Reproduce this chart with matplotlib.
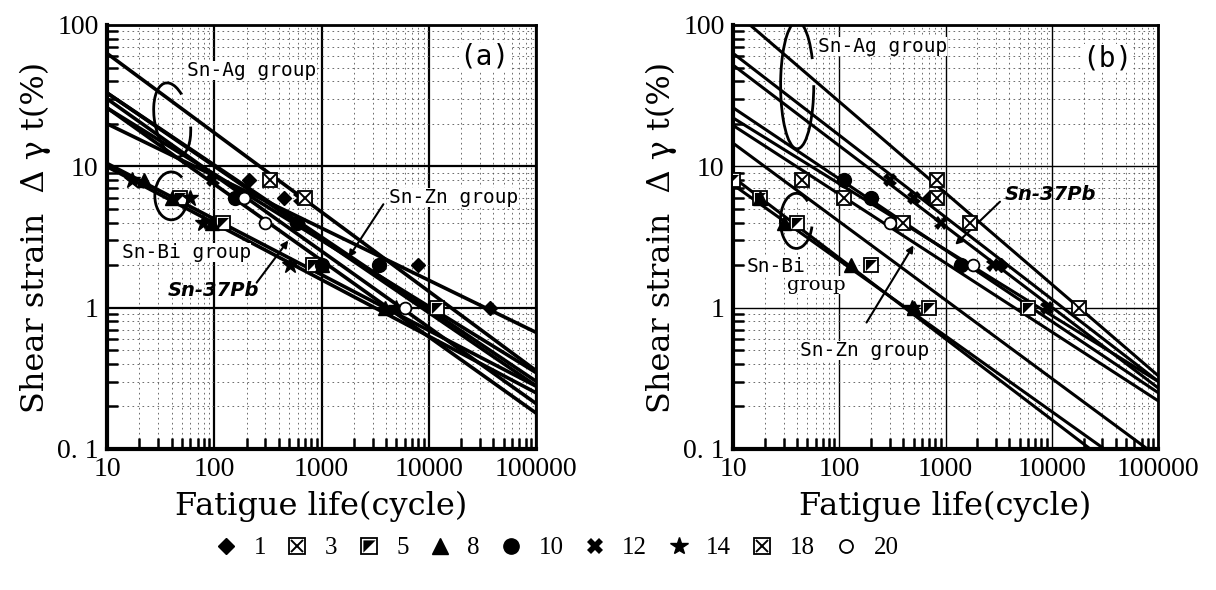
import numpy as np
import matplotlib
matplotlib.use("Agg")
import matplotlib.pyplot as plt
from matplotlib.lines import Line2D
from matplotlib.patches import Arc
from matplotlib.legend_handler import HandlerTuple
from matplotlib.ticker import FixedLocator, LogLocator, NullFormatter

ALLOYS = ["1", "3", "5", "8", "10", "12", "14", "18", "20"]

# fitted lines, d_gamma = C * N ** (-b), one per alloy
A_FIT_C = [46.8, 109, 104, 26, 76, 107, 25, 229, 90]
A_FIT_B = [0.369, 0.518, 0.539, 0.394, 0.468, 0.510, 0.40, 0.561, 0.540]
B_FIT_C = [194, 240, 31.3, 25.4, 83, 64.4, 52.4, 562, 59.8]
B_FIT_B = [0.571, 0.58, 0.572, 0.535, 0.504, 0.466, 0.555, 0.646, 0.487]

# measured points: fatigue life (cycle) and shear strain (%)
A_LIFE = [[210, 450, 7900, 37000], [330], [48, 120, 830, 12000],
          [22, 40, 95, 1000, 3900], [156, 590, 1000, 3400], [97, 630],
          [17, 60, 79, 510, 5000], [700], [300, 190, 6000]]
A_STRAIN = [[8, 6, 2, 1], [8], [6, 4, 2, 1],
            [8, 6, 4, 2, 1], [6, 4, 2, 2], [8, 6],
            [8, 6, 4, 2, 1], [6], [4, 6, 1]]
B_LIFE = [[700, 3300], [45, 110, 18000], [10, 18, 40, 200, 700, 6000],
          [18, 30, 130, 500], [110, 200, 1400], [300, 500, 900, 2800, 9000],
          [480], [830, 830, 400, 1700], [300, 1800]]
B_STRAIN = [[6, 2], [8, 6, 1], [8, 6, 4, 2, 1, 1],
            [6, 4, 2, 1], [8, 6, 2], [8, 6, 4, 2, 1],
            [1], [8, 6, 4, 4], [4, 2]]

X_TICKS = [10, 100, 1000, 10000, 100000]
Y_TICKS = [0.1, 1, 10, 100]
Y_TICK_LABELS = ["0. 1", "1", "10", "100"]

TXT_SERIF = "DejaVu Serif"
TICK_FONT = "Liberation Serif"
MONO = "DejaVu Sans Mono"

HALF = [(-1, -1), (1, 1), (-1, 1)]


def marker_parts(i, ms):
    """list of plot kwargs per overlaid marker for alloy i"""
    k = dict(color="k", ls="none")
    box = dict(k, marker="s", mfc="white", mec="k", mew=1.3, ms=ms)
    styles = [
        [dict(k, marker="D", ms=ms * 0.75)],
        [box, dict(k, marker="x", mew=1.4, ms=ms * 0.8)],
        [box, dict(k, marker=HALF, ms=ms * 0.8, mew=0)],
        [dict(k, marker="^", ms=ms)],
        [dict(k, marker="o", ms=ms)],
        [dict(k, marker="X", ms=ms, mew=0)],
        [dict(k, marker="*", ms=ms * 1.2)],
        [box, dict(k, marker="x", mew=1.4, ms=ms * 0.8)],
        [dict(k, marker="o", mfc="white", mec="k", mew=1.3, ms=ms * 0.85)],
    ]
    return styles[i]


def setup_axes(ax, grid_lw):
    ax.set_xscale("log")
    ax.set_yscale("log")
    ax.set_xlim(10, 100000)
    ax.set_ylim(0.1, 100)
    ax.xaxis.set_major_locator(FixedLocator(X_TICKS))
    ax.set_xticklabels([str(t) for t in X_TICKS])
    ax.yaxis.set_major_locator(FixedLocator(Y_TICKS))
    ax.set_yticklabels(Y_TICK_LABELS)
    ax.xaxis.set_minor_locator(LogLocator(base=10, subs=np.arange(2, 10)))
    ax.yaxis.set_minor_locator(LogLocator(base=10, subs=np.arange(2, 10)))
    ax.xaxis.set_minor_formatter(NullFormatter())
    ax.yaxis.set_minor_formatter(NullFormatter())
    ax.grid(which="major", color="k", lw=grid_lw, zorder=1)
    ax.grid(which="minor", color="#555555", lw=0.6, ls=(0, (2, 4)), zorder=1)
    ax.tick_params(which="major", length=0, pad=6)
    ax.tick_params(which="minor", direction="in", length=8, width=1.8,
                   top=False, right=False)
    for lab in ax.get_xticklabels() + ax.get_yticklabels():
        lab.set_family(TICK_FONT)
        lab.set_fontsize(20)
    for side in ["left", "bottom"]:
        ax.spines[side].set_linewidth(3)
    for side in ["top", "right"]:
        ax.spines[side].set_linewidth(2)
    ax.set_xlabel("Fatigue life(cycle)", family=TXT_SERIF, fontsize=23,
                  labelpad=6)
    ax.set_ylabel("Shear strain  Δ γ t(%)", family=TXT_SERIF, fontsize=23,
                  labelpad=4)


def draw_panel(ax, fit_c, fit_b, life, strain, line_lw):
    n = np.logspace(1, 5, 60)
    for c, b in zip(fit_c, fit_b):
        ax.plot(n, c * n ** (-b), color="k", lw=line_lw, zorder=3)
    for i in range(len(ALLOYS)):
        for kw in marker_parts(i, 10):
            ax.plot(life[i], strain[i], zorder=4, **kw)


def ellipse(ax, cx, cy, w, h, ang, t1, t2):
    ax.add_patch(Arc((cx, cy), w, h, angle=ang, theta1=t1, theta2=t2,
                     transform=ax.transAxes, color="k", lw=2, zorder=5))


def label(ax, x, y, s, **kw):
    opts = dict(family=MONO, fontsize=14, va="center", zorder=6,
                bbox=dict(facecolor="white", edgecolor="none", pad=0))
    opts.update(kw)
    ax.text(x, y, s, **opts)


fig = plt.figure(figsize=(12.16, 5.90), dpi=100)
ax_a = fig.add_axes([107 / 1216, 141 / 590, 429 / 1216, 424 / 590])
ax_b = fig.add_axes([733 / 1216, 141 / 590, 425 / 1216, 424 / 590])

setup_axes(ax_a, 1.6)
setup_axes(ax_b, 1.0)
draw_panel(ax_a, A_FIT_C, A_FIT_B, A_LIFE, A_STRAIN, 2.6)
draw_panel(ax_b, B_FIT_C, B_FIT_B, B_LIFE, B_STRAIN, 2.2)

arrow = dict(arrowstyle="-|>", color="k", lw=1.5)

# panel (a) annotations
label(ax_a, 0.88, 0.925, "(a)", transform=ax_a.transAxes, fontsize=20,
      ha="center")
label(ax_a, 56, 48, "Sn-Ag group")
label(ax_a, 13.8, 2.44, "Sn-Bi group")
label(ax_a, 4300, 6.0, "Sn-Zn group")
ax_a.text(99, 1.33, "Sn-37Pb", family="DejaVu Sans", fontsize=14,
          weight="bold", style="italic", ha="center", va="center", zorder=6)
ax_a.annotate("", xy=(508, 3.1), xytext=(240, 1.45), arrowprops=arrow)
ax_a.annotate("", xy=(1730, 2.18), xytext=(3900, 5.6), arrowprops=arrow)
ellipse(ax_a, 0.152, 0.776, 0.082, 0.177, 10, 60, 330)
ellipse(ax_a, 0.150, 0.597, 0.077, 0.113, 0, 60, 340)

# panel (b) annotations
label(ax_b, 0.882, 0.922, "(b)", transform=ax_b.transAxes, fontsize=20,
      ha="center")
label(ax_b, 63, 70, "Sn-Ag group")
label(ax_b, 13.5, 1.94, "Sn-Bi")
label(ax_b, 32, 1.45, "group", family=TXT_SERIF)
label(ax_b, 43, 0.5, "Sn-Zn group")
ax_b.text(3640, 6.3, "Sn-37Pb", family="DejaVu Sans", fontsize=14,
          weight="bold", style="italic", ha="left", va="center", zorder=6)
ax_b.annotate("", xy=(1180, 2.7), xytext=(3400, 5.8), arrowprops=arrow)
ax_b.annotate("", xy=(516, 2.87), xytext=(175, 0.755), arrowprops=arrow)
ellipse(ax_b, 0.151, 0.858, 0.078, 0.30, 0, 60, 360)
ellipse(ax_b, 0.149, 0.538, 0.075, 0.13, 0, 60, 340)

# legend
handles = []
for i in range(len(ALLOYS)):
    handles.append(tuple(Line2D([], [], **kw) for kw in marker_parts(i, 11)))
fig.legend(handles, ALLOYS, loc="center", ncol=9,
           bbox_to_anchor=(556 / 1216, 1 - 548 / 590), frameon=False,
           handler_map={tuple: HandlerTuple(ndivide=1)},
           handlelength=1.0, handletextpad=0.6, columnspacing=0.75,
           prop={"family": TICK_FONT, "size": 18})

fig.savefig("out.png", dpi=100, facecolor="white")
